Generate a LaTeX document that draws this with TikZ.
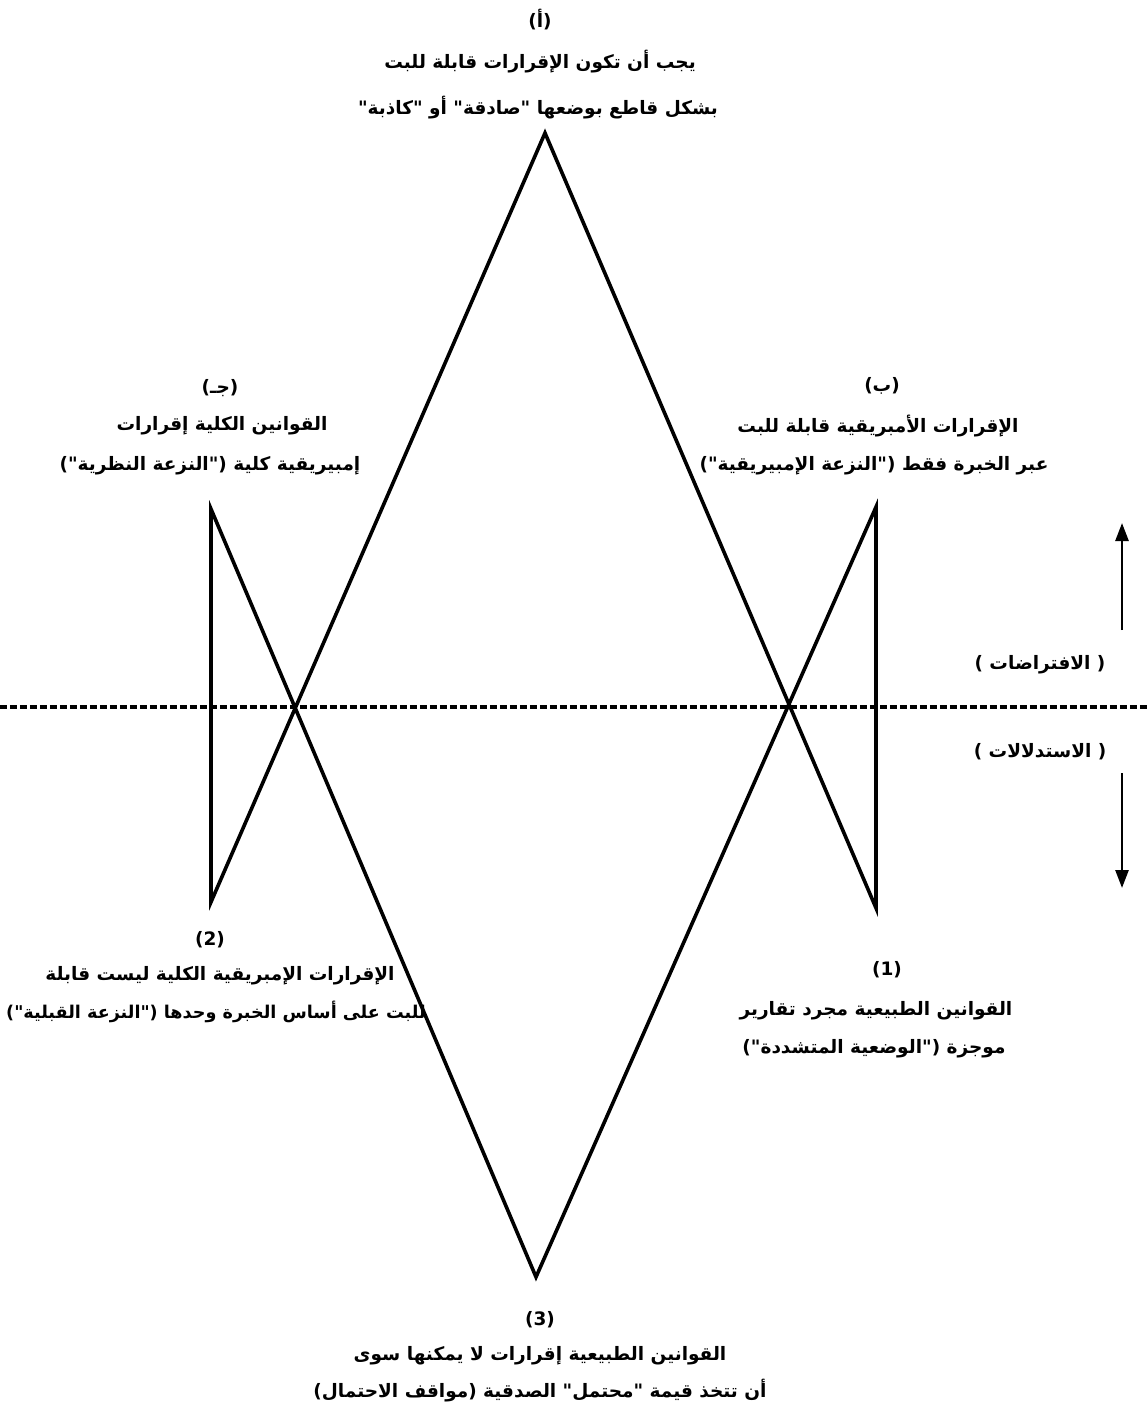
\documentclass[tikz,border=0pt]{standalone}
\usepackage{fontspec}
\usetikzlibrary{arrows.meta}
\TeXXeTstate=1
\newfontfamily\arabicfont[Script=Arabic]{DejaVu Sans}
\tikzset{
  shape line/.style={line width=3.6pt, line join=miter, black},
  axis line/.style={line width=3.2pt, dash pattern=on 7pt off 3pt},
  side arrow/.style={line width=2.6pt, -{Triangle[length=18pt,width=13pt]}},
  lbl/.style={font=\arabicfont\bfseries\fontsize{18.5}{22}\selectfont, inner sep=0pt, anchor=center},
  lblsmall/.style={lbl, font=\arabicfont\bfseries\fontsize{17.6}{21}\selectfont},
}
\newcommand{\rl}[1]{\beginR #1\endR}
\begin{document}
\begin{tikzpicture}[x=1pt,y=-1pt]
\useasboundingbox (0,0) rectangle (1147,1410);
% vertices
\coordinate (T) at (545,133);
\coordinate (B) at (536,1277);
\coordinate (LT) at (211,509);
\coordinate (LB) at (211,902);
\coordinate (RT) at (876,507);
\coordinate (RB) at (876,908);
\coordinate (DL) at (0,707);
\coordinate (DR) at (1147,707);
\coordinate (AU1) at (1122,630);
\coordinate (AU2) at (1122,523);
\coordinate (AD1) at (1122,773);
\coordinate (AD2) at (1122,888);
% dashed line
\draw[axis line] (DL) -- (DR);
% figure
\draw[shape line] (T) -- (LB) -- (LT) -- (B) -- (RT) -- (RB) -- cycle;
% arrows
\draw[side arrow] (AU1) -- (AU2);
\draw[side arrow] (AD1) -- (AD2);
% top
\node[lbl] (a0) at (540,20) {\rl{(أ)}};
\node[lbl] (a1) at (540,62) {\rl{يجب أن تكون الإقرارات قابلة للبت}};
\node[lbl] (a2) at (538,108) {\rl{بشكل قاطع بوضعها "صادقة" أو "كاذبة"}};
% left top
\node[lbl] (c0) at (220,388) {\rl{(جـ)}};
\node[lbl] (c1) at (222,426) {\rl{القوانين الكلية إقرارات}};
\node[lbl] (c2) at (210,466) {\rl{إمبيريقية كلية ("النزعة النظرية")}};
% right top
\node[lbl] (b0) at (882,386) {\rl{(ب)}};
\node[lbl] (b1) at (878,426) {\rl{الإقرارات الأمبريقية قابلة للبت}};
\node[lbl] (b2) at (874,466) {\rl{عبر الخبرة فقط ("النزعة الإمبيريقية")}};
% (2)
\node[lbl] (n20) at (210,940) {\rl{(2)}};
\node[lbl] (n21) at (220,976) {\rl{الإقرارات الإمبريقية الكلية ليست قابلة}};
\node[lblsmall] (n22) at (216,1012) {\rl{للبت على أساس الخبرة وحدها ("النزعة القبلية")}};
% (1)
\node[lbl] (n10) at (887,970) {\rl{(1)}};
\node[lbl] (n11) at (876,1011) {\rl{القوانين الطبيعية مجرد تقارير}};
\node[lbl] (n12) at (874,1049) {\rl{موجزة ("الوضعية المتشددة")}};
% (3)
\node[lbl] (n30) at (540,1320) {\rl{(3)}};
\node[lbl] (n31) at (540,1356) {\rl{القوانين الطبيعية إقرارات لا يمكنها سوى}};
\node[lbl] (n32) at (540,1391) {\rl{أن تتخذ قيمة "محتمل" الصدقية (مواقف الاحتمال)}};
% side labels
\node[lbl] (h1) at (1040,665) {\rl{( الافتراضات )}};
\node[lbl] (h2) at (1040,752) {\rl{( الاستدلالات )}};
\end{tikzpicture}
\end{document}
